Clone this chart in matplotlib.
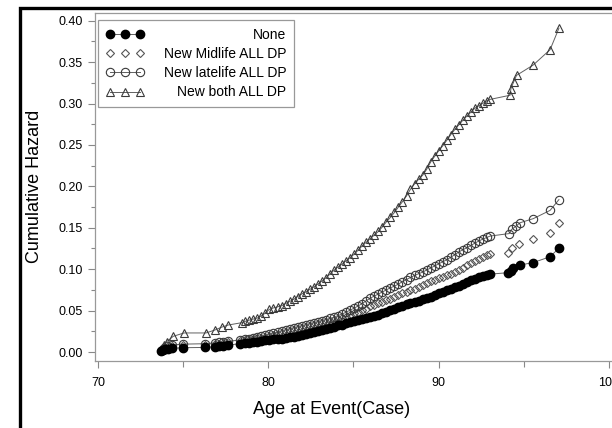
import matplotlib
matplotlib.use("Agg")
import matplotlib.pyplot as plt
from matplotlib.patches import Rectangle
from matplotlib.ticker import MultipleLocator

plt.rcParams['font.family'] = ['Liberation Sans', 'DejaVu Sans']

# event ages in the dense middle stretch (shared by all four curves)
dense_age = [78.64, 78.88, 79.12, 79.35, 79.59, 79.83, 80.06, 80.3, 80.54, 80.78, 81.01,
             81.25, 81.49, 81.72, 81.96, 82.2, 82.43, 82.67, 82.91, 83.14, 83.38, 83.62,
             83.85, 84.09, 84.33, 84.56, 84.8, 85.04, 85.28, 85.51, 85.75, 85.99, 86.22,
             86.46, 86.7, 86.93, 87.17, 87.41, 87.64, 87.88, 88.12, 88.35, 88.59, 88.83,
             89.07, 89.3, 89.54, 89.78, 90.01, 90.25, 90.49, 90.72, 90.96, 91.2, 91.43,
             91.67, 91.91, 92.14, 92.38, 92.62, 92.85, 93.03]

# None
none_age = ([73.72, 73.83, 73.96, 74.1, 74.33, 75.01, 76.29, 76.87, 77.08, 77.32, 77.65, 78.36]
            + dense_age + [94.1, 94.24, 94.39, 94.78, 95.56, 96.55, 97.05])
none_h = [0.0008, 0.0024, 0.0035, 0.0040, 0.0044, 0.0052, 0.0055, 0.0064, 0.0070, 0.0076, 0.0085, 0.0100,
          0.0106, 0.011, 0.0118, 0.0126, 0.0134, 0.0141, 0.0148, 0.0154, 0.0158, 0.0162, 0.0167,
          0.0176, 0.0187, 0.0196, 0.0207, 0.022, 0.0232, 0.0244, 0.0256, 0.027, 0.0282, 0.0295, 0.0307,
          0.032, 0.0332, 0.0345, 0.0357, 0.037, 0.0382, 0.0395, 0.0407, 0.042, 0.0432, 0.0447, 0.0465,
          0.0485, 0.0505, 0.0523, 0.054, 0.056, 0.058, 0.0595, 0.0607, 0.062, 0.0635, 0.0652, 0.067,
          0.069, 0.071, 0.0728, 0.0746, 0.0765, 0.0783, 0.0802, 0.0825, 0.085, 0.0868, 0.0885, 0.0905,
          0.0922, 0.0935, 0.094, 0.0958, 0.098, 0.101, 0.105, 0.108, 0.115, 0.125]

# New Midlife ALL DP
mid_age = ([73.77, 73.86, 74.03, 74.33, 75.01, 76.29, 76.87, 77.08, 77.32, 77.65, 78.36]
           + dense_age + [94.1, 94.29, 94.75, 95.56, 96.55, 97.05])
mid_h = [0.001, 0.004, 0.006, 0.007, 0.008, 0.0085, 0.0095, 0.010, 0.011, 0.012, 0.013,
         0.014, 0.015, 0.0158, 0.0167, 0.0175, 0.0183, 0.0192, 0.0205, 0.0215, 0.0225, 0.0237,
         0.025, 0.0262, 0.0275, 0.0287, 0.030, 0.0312, 0.0325, 0.0337, 0.035, 0.0362, 0.0375, 0.0387,
         0.040, 0.0412, 0.0427, 0.0445, 0.0465, 0.0483, 0.0502, 0.0525, 0.055, 0.0568, 0.0588, 0.0607,
         0.0625, 0.0643, 0.0662, 0.0685, 0.071, 0.0728, 0.0748, 0.0766, 0.0785, 0.0805, 0.083, 0.0852,
         0.087, 0.0888, 0.0907, 0.0926, 0.0945, 0.0962, 0.099, 0.102, 0.105, 0.1075, 0.110, 0.1125,
         0.115, 0.117, 0.118, 0.119, 0.126, 0.130, 0.136, 0.144, 0.156]

# New latelife ALL DP
late_age = ([73.77, 73.86, 74.03, 74.33, 75.01, 76.29, 76.87, 77.08, 77.32, 77.65, 78.36]
            + dense_age + [94.15, 94.29, 94.55, 94.78, 95.56, 96.55, 97.07])
late_h = [0.002, 0.005, 0.007, 0.0085, 0.0095, 0.010, 0.011, 0.0115, 0.012, 0.013, 0.0145,
          0.0152, 0.016, 0.0168, 0.0177, 0.019, 0.0203, 0.0213, 0.023, 0.0242, 0.0255, 0.0267,
          0.028, 0.0292, 0.0305, 0.0317, 0.033, 0.0342, 0.0355, 0.0367, 0.038, 0.0392, 0.0405, 0.042,
          0.044, 0.0458, 0.048, 0.0505, 0.053, 0.0556, 0.0585, 0.0618, 0.065, 0.0675, 0.070, 0.0725,
          0.075, 0.0775, 0.0795, 0.082, 0.085, 0.0875, 0.090, 0.0925, 0.0945, 0.0965, 0.099, 0.1015,
          0.104, 0.1065, 0.109, 0.1115, 0.1145, 0.1175, 0.121, 0.1235, 0.126, 0.1288, 0.1315, 0.1342,
          0.1365, 0.1385, 0.140, 0.143, 0.148, 0.152, 0.156, 0.161, 0.171, 0.184]

# New both ALL DP
both_age = ([73.79, 73.86, 74.03, 74.42, 75.05, 76.34, 76.87, 77.26, 77.65, 78.44]
            + dense_age + [94.2, 94.25, 94.41, 94.58, 95.56, 96.55, 97.07])
both_h = [0.006, 0.009, 0.0125, 0.019, 0.023, 0.023, 0.0266, 0.030, 0.0326, 0.0354,
          0.037, 0.0385, 0.0398, 0.041, 0.0437, 0.047, 0.0515, 0.0532, 0.0545, 0.0558, 0.0585,
          0.061, 0.0635, 0.067, 0.070, 0.0725, 0.0755, 0.0785, 0.082, 0.0855, 0.0895, 0.094, 0.0985,
          0.1025, 0.106, 0.110, 0.1138, 0.118, 0.123, 0.128, 0.1325, 0.137, 0.141, 0.1455, 0.151,
          0.157, 0.1625, 0.1685, 0.175, 0.1815, 0.1885, 0.1965, 0.203, 0.2085, 0.2135, 0.2205, 0.2295,
          0.2365, 0.243, 0.249, 0.2558, 0.2625, 0.2688, 0.2745, 0.2798, 0.285, 0.2898, 0.2945, 0.2975,
          0.3005, 0.3035, 0.305, 0.310, 0.318, 0.326, 0.334, 0.3465, 0.365, 0.391]

labels = ['None', 'New Midlife ALL DP', 'New latelife ALL DP', 'New both ALL DP']

fig = plt.figure(figsize=(6.12, 4.28), dpi=100)
ax = fig.add_axes([95 / 612, 1 - 360.7 / 428, 530 / 612, 347.7 / 428])

line_c = '#606060'
h_none, = ax.plot(none_age, none_h, '-o', color=line_c, lw=0.7, ms=6,
                  mfc='black', mec='black', zorder=4)
h_mid, = ax.plot(mid_age, mid_h, 'D', ls='none', ms=4.3, mfc='none',
                 mec='#555555', mew=0.8, zorder=2)
h_late, = ax.plot(late_age, late_h, '-o', color=line_c, lw=0.7, ms=6, mfc='none',
                  mec='#3a3a3a', mew=0.8, zorder=3)
h_both, = ax.plot(both_age, both_h, '-^', color=line_c, lw=0.7, ms=6.3, mfc='none',
                  mec='#3a3a3a', mew=0.8, zorder=3)

ax.set_xlim(69.82, 100.95)
ax.set_ylim(-0.0105, 0.4093)
ax.set_xticks([70, 80, 90, 100])
ax.set_yticks([0.0, 0.05, 0.10, 0.15, 0.20, 0.25, 0.30, 0.35, 0.40])
ax.set_yticklabels(['0.00', '0.05', '0.10', '0.15', '0.20', '0.25', '0.30', '0.35', '0.40'])
ax.xaxis.set_minor_locator(MultipleLocator(5))
ax.yaxis.set_minor_locator(MultipleLocator(0.025))
ax.tick_params(which='both', direction='out', color='#888888', width=0.8, labelsize=9)
ax.tick_params(axis='y', which='major', length=5, pad=4)
ax.tick_params(axis='y', which='minor', length=3)
ax.tick_params(axis='x', which='major', length=5, pad=7)
ax.tick_params(axis='x', which='minor', length=4)
for s in ax.spines.values():
    s.set_color('#999999')
    s.set_linewidth(0.9)

ax.set_xlabel('Age at Event(Case)', fontsize=13)
ax.set_ylabel('Cumulative Hazard', fontsize=13)
ax.xaxis.set_label_coords(0.447, -0.115)
ax.yaxis.set_label_coords(-0.098, 0.5)

leg = ax.legend([h_none, h_mid, h_late, h_both], labels, loc='upper left',
                bbox_to_anchor=(3 / 530, 1 - 7 / 347.7), fontsize=10, numpoints=3,
                handlelength=2.8, handletextpad=1.4, labelspacing=0.38,
                borderpad=0.55, borderaxespad=0, fancybox=False, framealpha=1,
                edgecolor='#999999')
leg.get_frame().set_linewidth(0.9)

# right-align the legend labels: hide the originals, redraw them flush right
fig.canvas.draw()
rend = fig.canvas.get_renderer()
W, H = fig.bbox.width, fig.bbox.height
boxes = [t.get_window_extent(rend) for t in leg.get_texts()]
right = max(b.x1 for b in boxes)
for t, b in zip(leg.get_texts(), boxes):
    t.set_alpha(0)
    fig.text(right / W, (b.y0 + b.y1) / 2 / H, t.get_text(), ha='right', va='center',
             fontsize=10, zorder=10)

fig.patches.append(Rectangle((20 / 612, -0.2), 1.5, 1.2 - 8 / 428, transform=fig.transFigure,
                             fill=False, lw=2.4, ec='black'))

fig.savefig('out.png', dpi=100)
